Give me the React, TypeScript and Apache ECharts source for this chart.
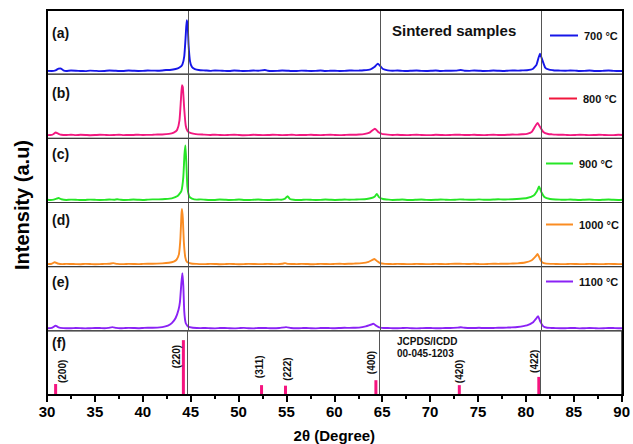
import React, { useEffect, useRef } from 'react';
import * as echarts from 'echarts';

const xMin = 30;
const xMax = 90;
const xStep = 5;

const sampleNames = ['700 °C', '800 °C', '900 °C', '1000 °C', '1100 °C'];
const sampleColors = ['#1616e8', '#f2187f', '#26e626', '#fa8c22', '#8a22f5'];
const legendLineColors = ['#1616e8', '#f0163c', '#26e626', '#fa8c22', '#8a22f5'];
const panelLetters = ['(a)', '(b)', '(c)', '(d)', '(e)', '(f)'];
const refLines = [44.69, 64.69, 81.46];

const curve700: [number, number][] = [
  [30, 5.2], [30.5, 5.0], [30.9, 6.0], [31.2, 8.5], [31.4, 9.0], [31.7, 6.0], [32, 5.0], [32.5, 5.6], [33, 5.3], [33.5, 4.9], [34, 4.8],
  [34.5, 5.5], [35, 5.2], [35.5, 4.8], [36, 5.0], [36.5, 5.6], [37, 5.4], [37.5, 4.9], [38, 5.0], [38.5, 5.6], [39, 5.3], [39.5, 5.0], [40, 5.1], [40.5, 5.7], [41, 5.5], [41.5, 5.4], [42, 5.8], [42.4, 6.4], [42.8, 6.5],
  [43.4, 8], [43.8, 10.5], [44.1, 15], [44.3, 28], [44.45, 60], [44.55, 84], [44.65, 78], [44.75, 45],
  [44.9, 20], [45.1, 11], [45.4, 8], [45.8, 6.5], [46.5, 5.8], [47, 5.2], [47.5, 5.8], [48, 5.5], [48.5, 5.1], [49, 5.0], [49.5, 5.6], [50, 5.3],
  [50.5, 4.9], [51, 5.1], [51.5, 5.6], [52, 5.4], [52.7, 6.5], [53, 5.3], [53.5, 5.0], [54, 5.2], [54.5, 5.7], [55, 5.4], [55.5, 4.9], [56, 5.0], [56.5, 5.5], [57, 5.3], [57.5, 5.0], [58, 5.2],
  [58.5, 5.6], [59, 5.0], [59.5, 5.3], [60, 5.4], [60.5, 5.0], [61, 5.2], [61.5, 5.7], [62, 5.5], [62.5, 5.6], [63, 6.0], [63.7, 7.5], [64.1, 11], [64.45, 16.5], [64.7, 13],
  [65.0, 8], [65.5, 6], [66, 5.4], [66.5, 5.8], [67, 5.2], [67.5, 4.9], [68, 5.4], [68.5, 5.6], [69, 5.1], [69.5, 5.0], [70, 5.3], [70.5, 5.7], [71, 5.0], [71.5, 5.3], [72, 5.4],
  [72.6, 5.6], [73.1, 6.5], [73.5, 5.3], [74, 5.2], [74.5, 5.7], [75, 5.4], [75.5, 5.0], [76, 5.1], [76.5, 5.6], [77, 5.3], [77.5, 5.0], [78, 5.4], [78.5, 5.8], [79, 5.5], [79.5, 5.9], [80, 6.2],
  [80.6, 8], [81.0, 15], [81.35, 32], [81.6, 22], [81.9, 10], [82.3, 7], [82.7, 6.2], [83, 5.8], [83.5, 5.5], [84, 5.3], [84.5, 5.7], [85, 5.5],
  [85.5, 5.0], [86, 5.2], [86.5, 5.6], [87, 5.0], [87.5, 4.9], [88, 5.3], [88.5, 5.6], [89, 5.2], [89.5, 4.9], [90, 5.0],
];

const curve800: [number, number][] = [
  [30, 5.0], [30.5, 5.3], [30.7, 7], [30.9, 9], [31.2, 7], [31.5, 5.5], [32, 5.2], [32.5, 5.7], [33, 5.0], [33.5, 5.5], [34, 5.3],
  [34.5, 4.9], [35, 5.1], [35.5, 5.6], [36, 5.4], [36.5, 5.0], [37, 5.2], [37.5, 5.7], [38, 5.0], [38.5, 5.3], [39, 5.3], [39.5, 5.7], [40, 5.2], [40.5, 5.4], [41, 5.5], [41.5, 5.9], [42, 6], [42.7, 7],
  [43.2, 9], [43.55, 13], [43.8, 28], [43.95, 60], [44.05, 83], [44.15, 80], [44.3, 45], [44.45, 20],
  [44.65, 11], [45, 8], [45.5, 6.5], [46.3, 5.8], [47, 5.3], [47.5, 5.7], [48, 5.1], [48.5, 5.0], [49, 5.4], [49.5, 5.6], [50, 5.2], [50.5, 4.9], [51, 5.0],
  [51.5, 5.5], [52, 5.3], [52.5, 5.0], [53, 5.1], [53.5, 5.6], [54, 5.4], [54.5, 5.0], [55, 5.2], [55.5, 5.7], [56, 5.0], [56.5, 5.2], [57, 5.3], [57.5, 5.6], [58, 5.1], [58.5, 5.0], [59, 5.4], [59.5, 5.6], [60, 5.2],
  [60.5, 5.0], [61, 5.3], [61.5, 5.7], [62, 5.6], [62.5, 5.9], [63, 6.5], [63.6, 9], [64.15, 15], [64.5, 10], [64.9, 7], [65.5, 5.8], [66, 5.3],
  [66.5, 5.6], [67, 5.1], [67.5, 5.0], [68, 5.4], [68.5, 5.7], [69, 5.2], [69.5, 5.0], [70, 5.0], [70.5, 5.5], [71, 5.3], [71.5, 5.0], [72, 5.2], [72.5, 5.6], [73, 5.5], [73.5, 5.1], [74, 5.2], [74.5, 5.6], [75, 5.1],
  [75.5, 5.0], [76, 5.4], [76.5, 5.7], [77, 5.3], [77.5, 5.2], [78, 5.5], [78.5, 5.9], [79, 5.8], [79.5, 6.3], [80, 7], [80.5, 10], [80.9, 20], [81.1, 24], [81.35, 18],
  [81.7, 10], [82.2, 6.8], [82.6, 6.2], [83, 5.8], [83.5, 5.6], [84, 5.4], [84.5, 5.0], [85, 5.2], [85.5, 5.7], [86, 5.4], [86.5, 5.0], [87, 5.1], [87.5, 5.6], [88, 5.3], [88.5, 5.0], [89, 5.0],
  [89.5, 5.5], [90, 5.2],
];

const curve900: [number, number][] = [
  [30, 4.2], [30.4, 3.9], [30.7, 4.5], [31.0, 6], [31.2, 7], [31.5, 5], [32, 4.0], [32.5, 4.5], [33, 4.3], [33.5, 3.8], [34, 4.0], [34.5, 4.5], [35, 4.2],
  [35.5, 3.9], [36, 4.1], [36.5, 4.6], [37, 4.4], [37.3, 5.0], [37.7, 4.3], [38.1, 3.9], [38.5, 4.1], [39, 4.6], [39.5, 4.3], [40, 4.0], [40.5, 4.5], [41, 4.9], [41.5, 4.8],
  [42.3, 5.5], [43, 6.5], [43.6, 10], [44.0, 18], [44.2, 40], [44.32, 75], [44.42, 89], [44.52, 60],
  [44.62, 25], [44.8, 10], [45.1, 6], [45.6, 4.5], [46, 4.8], [46.5, 4.2], [47, 3.9], [47.5, 4.0], [48, 4.6], [48.5, 4.3], [49, 3.9], [49.5, 4.1],
  [50, 4.6], [50.5, 4.0], [51, 3.8], [51.5, 4.3], [52, 4.6], [52.5, 4.1], [53, 3.9], [53.5, 4.2], [54, 4.6], [54.4, 4.4], [54.8, 6], [55.06, 10], [55.3, 5.5],
  [55.7, 4.3], [56, 3.9], [56.5, 4.0], [57, 4.5], [57.5, 4.2], [58, 3.9], [58.5, 4.1], [59, 4.6], [59.5, 4.3], [60, 4.0], [60.5, 4.2], [61, 4.7], [61.5, 4.4], [62, 4.5], [62.5, 4.8],
  [63.3, 5.5], [63.8, 7], [64.15, 9.5], [64.35, 13.5], [64.6, 8], [65, 5.5], [65.6, 4.4], [66, 4.0], [66.5, 4.2], [67, 4.6], [67.5, 4.0],
  [68, 3.9], [68.5, 4.3], [69, 4.6], [69.5, 4.1], [70, 4.0], [70.5, 4.2], [71, 4.7], [71.5, 4.4], [72, 4.1], [72.5, 4.3], [73, 4.8], [73.5, 4.5], [74, 4.2], [74.5, 4.3],
  [75, 4.8], [75.5, 4.4], [76, 4.3], [76.5, 4.6], [77, 5.0], [77.5, 4.7], [78, 4.8], [78.5, 5.0], [79.3, 5.8], [80, 7], [80.7, 11], [81.05, 18],
  [81.25, 25], [81.5, 16], [81.85, 8], [82.4, 5.5], [83, 4.6], [83.5, 4.4], [84, 4.3], [84.5, 4.7], [85, 4.2], [85.5, 3.9], [86, 4.4], [86.5, 4.6], [87, 4.1], [87.5, 3.9],
  [88, 4.3], [88.5, 4.6], [89, 4.2], [89.5, 4.0], [90, 4.3],
];

const curve1000: [number, number][] = [
  [30, 4.0], [30.5, 4.5], [30.8, 7], [31.1, 5], [31.6, 4.0], [32, 4.4], [32.5, 4.2], [33, 4.0], [33.5, 3.8], [34, 4.3], [34.5, 4.1],
  [35, 3.8], [35.5, 4.0], [36, 4.4], [36.5, 4.5], [36.9, 5.5], [37.3, 4.3], [38, 4.0], [38.5, 4.4], [39, 4.2], [39.5, 3.9], [40, 4.3], [40.5, 4.6], [41, 4.6],
  [42, 5.2], [42.7, 6.2], [43.2, 8], [43.5, 11], [43.75, 20], [43.9, 45], [44.0, 80], [44.06, 90],
  [44.15, 75], [44.25, 40], [44.4, 15], [44.6, 7], [45, 5], [45.6, 4.3], [46, 4.0], [46.5, 4.0], [47, 4.4], [47.5, 4.2],
  [48, 3.8], [48.5, 3.9], [49, 4.4], [49.5, 4.1], [50, 3.8], [50.5, 4.0], [51, 4.4], [51.5, 4.2], [52, 3.9], [52.5, 4.0], [53, 4.4], [53.5, 4.1], [54, 4.0], [54.5, 4.5], [54.8, 5.5],
  [55.1, 4.3], [55.5, 4.1], [56, 4.0], [56.5, 4.4], [57, 4.2], [57.5, 3.8], [58, 3.9], [58.5, 4.3], [59, 4.1], [59.5, 3.9], [60, 4.3], [60.5, 4.5], [61, 4.2], [61.5, 4.5], [62, 4.8], [62.8, 5.5],
  [63.5, 7.5], [64.1, 12], [64.4, 8.5], [64.7, 5.5], [65.2, 4.3], [65.6, 4.1], [66, 4.0], [66.5, 4.4], [67, 4.2], [67.5, 3.9], [68, 3.9],
  [68.5, 4.3], [69, 4.1], [69.5, 3.9], [70, 4.0], [70.5, 4.4], [71, 4.2], [71.5, 4.0], [72, 4.4], [72.5, 4.6], [73, 4.6], [73.5, 4.3], [74, 4.2], [74.5, 4.5], [75, 4.1], [75.5, 4.0], [76, 4.3], [76.5, 4.6], [77, 4.4],
  [77.5, 4.5], [78, 4.6], [78.5, 4.9], [79, 5.2], [79.8, 6.5], [80.5, 10], [80.9, 16], [81.1, 20], [81.35, 12], [81.6, 6.5],
  [82, 4.8], [82.5, 4.4], [83, 4.2], [83.5, 4.0], [84, 4.0], [84.5, 4.4], [85, 4.2], [85.5, 3.9], [86, 4.0], [86.5, 4.4], [87, 4.1], [87.5, 3.9], [88, 4.0], [88.5, 4.4], [89, 4.2], [89.5, 3.9], [90, 4.0],
];

const curve1100: [number, number][] = [
  [30, 4.0], [30.5, 4.6], [30.9, 8], [31.2, 5.5], [31.7, 4.2], [32, 4.0], [32.5, 4.0], [33, 4.4], [33.5, 4.2], [34, 3.9], [34.5, 4.0],
  [35, 4.4], [35.5, 4.3], [36, 4.1], [36.4, 4.6], [36.8, 5.8], [37.2, 4.6], [37.6, 4.1], [38, 4.2], [38.5, 4.6], [39, 4.4], [39.5, 4.1], [40, 4.5], [40.5, 4.9], [41, 4.8],
  [42, 5.8], [42.6, 8], [43.0, 12], [43.4, 20], [43.7, 33], [43.85, 45], [44.0, 75], [44.1, 90],
  [44.2, 70], [44.3, 30], [44.45, 12], [44.7, 6.5], [45.2, 4.8], [45.6, 4.4], [46, 4.2], [46.5, 4.5], [47, 4.0], [47.5, 3.9], [48, 4.3],
  [48.5, 4.5], [49, 4.1], [49.5, 3.9], [50, 4.2], [50.5, 4.6], [51, 4.0], [51.5, 3.9], [52, 4.3], [52.5, 4.5], [53, 4.2], [53.5, 4.1], [54.2, 4.5], [54.9, 5.8], [55.4, 4.5],
  [56, 4.1], [56.5, 4.2], [57, 4.5], [57.5, 4.0], [58, 3.9], [58.5, 4.3], [59, 4.5], [59.5, 4.2], [60, 4.1], [60.5, 4.4], [61, 4.7], [61.5, 4.6], [62, 4.8], [62.5, 5.0], [63.2, 7],
  [63.7, 9.5], [64.0, 11], [64.3, 8], [64.6, 5.5], [65.1, 4.3], [65.5, 4.5], [66, 4.1], [66.5, 4.0], [67, 4.3], [67.5, 4.6], [68, 4.0],
  [68.5, 3.9], [69, 4.2], [69.5, 4.5], [70, 4.3], [70.5, 4.0], [71, 4.1], [71.5, 4.5], [72, 4.5], [72.8, 5.0], [73.1, 5.5], [73.5, 4.8], [74, 4.3], [74.5, 4.4],
  [75, 4.7], [75.5, 4.3], [76, 4.4], [76.5, 4.5], [77, 4.9], [77.5, 4.8], [78, 5.1], [78.3, 5.3], [79, 6], [80, 8.5], [80.6, 13], [81.0, 20],
  [81.15, 23], [81.4, 14], [81.7, 7], [82.1, 4.8], [82.5, 4.5], [83, 4.2], [83.5, 4.0], [84, 4.1], [84.5, 4.5], [85, 4.3], [85.5, 3.9], [86, 4.0],
  [86.5, 4.4], [87, 4.2], [87.5, 3.9], [88, 4.1], [88.5, 4.5], [89, 4.3], [89.5, 4.0], [90, 4.1],
];

const curves = [curve700, curve800, curve900, curve1000, curve1100];

const refPositions = [30.9, 44.24, 52.4, 54.9, 64.34, 73.05, 81.35];
const refIntensities = [20, 100, 18, 17, 27, 18, 33];
const refHkl = ['(200)', '(220)', '(311)', '(222)', '(400)', '(420)', '(422)'];
const refLabelOffsets: [number, number][] = [[1, 7], [-28, -7], [7, -2], [5, 2], [6, -4], [2, 0], [4, -4]];
const refColor = '#f5147f';

const legendCentersY = [37, 100, 165, 226, 283];
const legendLefts = [550, 549, 546, 546, 546];
const legendLineWidths = [28, 28, 27, 27, 27];
const letterCentersY = [33, 93, 154, 220, 282, 343];

const FONT = 'Liberation Sans, Arial, sans-serif';

export default function App() {
  const ref = useRef<HTMLDivElement>(null);

  useEffect(() => {
    if (!ref.current) return;
    const chart = echarts.init(ref.current, null, { renderer: 'svg' });

    const plotLeft = 47;
    const plotRight = 623;
    const plotTop = 10;
    const plotBottom = 395;
    const nPanels = 6;
    const panelH = (plotBottom - plotTop) / nPanels;

    const grids = [];
    const xAxes = [];
    const yAxes = [];
    for (let i = 0; i < nPanels; i++) {
      grids.push({
        left: plotLeft,
        width: plotRight - plotLeft,
        top: plotTop + i * panelH,
        height: panelH,
        show: true,
        borderColor: '#3a3a3a',
        borderWidth: 1,
        backgroundColor: 'transparent',
      });
      const isLast = i === nPanels - 1;
      xAxes.push({
        type: 'value',
        gridIndex: i,
        min: xMin,
        max: xMax,
        interval: xStep,
        show: isLast,
        name: isLast ? '2θ (Degree)' : '',
        nameLocation: 'middle',
        nameGap: 33,
        nameTextStyle: { fontFamily: FONT, fontWeight: 'bold', fontSize: 15, color: '#000' },
        axisLine: { show: true, onZero: false, lineStyle: { color: '#000', width: 2 } },
        axisTick: { show: true, inside: false, length: 7, lineStyle: { color: '#000', width: 2 } },
        minorTick: { show: true, splitNumber: 2, length: 4, lineStyle: { color: '#000', width: 2 } },
        axisLabel: { fontFamily: FONT, fontWeight: 'bold', fontSize: 15, color: '#000', margin: 9 },
        splitLine: { show: false },
      });
      yAxes.push({
        type: 'value',
        gridIndex: i,
        min: 0,
        max: isLast ? 117 : 100,
        show: false,
        splitLine: { show: false },
      });
    }

    const markLine = {
      silent: true,
      symbol: ['none', 'none'],
      label: { show: false },
      lineStyle: { color: '#555', width: 1, type: 'solid' },
      data: refLines.map((v) => ({ xAxis: v })),
    };

    const series: any[] = curves.map((c, i) => ({
      type: 'line',
      name: sampleNames[i],
      xAxisIndex: i,
      yAxisIndex: i,
      data: c,
      symbol: 'none',
      smooth: 0.15,
      lineStyle: { color: sampleColors[i], width: 1.9 },
      itemStyle: { color: sampleColors[i] },
      markLine,
      z: 3,
    }));

    series.push({
      type: 'bar',
      name: 'JCPDS',
      xAxisIndex: 5,
      yAxisIndex: 5,
      barWidth: 3,
      itemStyle: { color: refColor },
      data: refPositions.map((x, k) => ({
        value: [x, refIntensities[k]],
        label: {
          show: true,
          formatter: refHkl[k],
          position: 'top',
          distance: 0,
          rotate: 90,
          align: 'left',
          verticalAlign: 'middle',
          offset: refLabelOffsets[k],
          fontFamily: FONT,
          fontWeight: 'bold',
          fontSize: 10,
          color: '#111',
        },
      })),
      markLine,
    });

    const legends = sampleNames.map((n, i) => ({
      data: [{ name: n, icon: 'rect', itemStyle: { color: legendLineColors[i] } }],
      left: legendLefts[i],
      top: legendCentersY[i] - 7,
      padding: 0,
      itemWidth: legendLineWidths[i],
      itemHeight: 2,
      itemGap: 0,
      selectedMode: false,
      textStyle: { fontFamily: FONT, fontWeight: 'bold', fontSize: 11, color: '#111', padding: [0, 0, 0, 1] },
    }));

    const graphic: any[] = [
      {
        type: 'rect',
        shape: { x: plotLeft, y: plotTop, width: plotRight - plotLeft, height: plotBottom - plotTop },
        style: { fill: 'none', stroke: '#000', lineWidth: 2 },
        silent: true,
        z: 10,
      },
      {
        type: 'text',
        x: 22,
        y: 205,
        rotation: Math.PI / 2,
        style: {
          text: 'Intensity (a.u)',
          fontFamily: FONT,
          fontWeight: 'bold',
          fontSize: 20,
          fill: '#000',
          align: 'center',
          verticalAlign: 'middle',
        },
      },
      {
        type: 'text',
        x: 392,
        y: 30,
        style: {
          text: 'Sintered samples',
          fontFamily: FONT,
          fontWeight: 'bold',
          fontSize: 15,
          fill: '#111',
          align: 'left',
          verticalAlign: 'middle',
        },
      },
      {
        type: 'text',
        x: 397,
        y: 341,
        style: { text: 'JCPDS/ICDD', fontFamily: FONT, fontWeight: 'bold', fontSize: 10, fill: '#111', verticalAlign: 'middle' },
      },
      {
        type: 'text',
        x: 397,
        y: 353,
        style: { text: '00-045-1203', fontFamily: FONT, fontWeight: 'bold', fontSize: 10, fill: '#111', verticalAlign: 'middle' },
      },
      ...panelLetters.map((t, i) => ({
        type: 'text',
        x: 52,
        y: letterCentersY[i],
        style: { text: t, fontFamily: FONT, fontWeight: 'bold', fontSize: 14, fill: '#111', verticalAlign: 'middle' },
      })),
    ];

    chart.setOption({
      animation: false,
      backgroundColor: '#fff',
      grid: grids,
      xAxis: xAxes,
      yAxis: yAxes,
      legend: legends,
      series,
      graphic,
    });

    return () => chart.dispose();
  }, []);

  return <div ref={ref} style={{ position: 'fixed', left: 0, top: 0, width: 633, height: 444 }} />;
}
